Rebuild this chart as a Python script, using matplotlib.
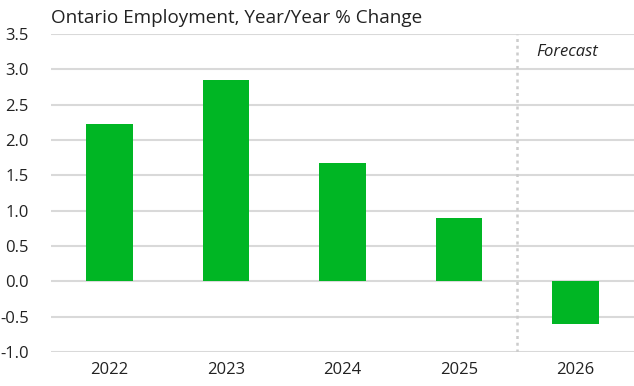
import matplotlib
matplotlib.use("Agg")
import matplotlib.pyplot as plt

years = ["2022", "2023", "2024", "2025", "2026"]
values = [2.22, 2.85, 1.68, 0.89, -0.60]
yticks = [-1.0, -0.5, 0.0, 0.5, 1.0, 1.5, 2.0, 2.5, 3.0, 3.5]
title = "Ontario Employment, Year/Year % Change"
forecast_label = "Forecast"

plt.rcParams['font.family'] = ['Open Sans', 'DejaVu Sans']

fig = plt.figure(figsize=(6.34, 3.86), dpi=100)
ax = fig.add_axes([51/634, 1-352/386, 1-51/634, (352-34)/386])

x = list(range(len(years)))
ax.bar(x, values, width=0.4, color="#00B624", zorder=3)
ax.set_xlim(-0.5, len(years)-0.5)
ax.set_ylim(-1.0, 3.5)
ax.set_yticks(yticks)
ax.set_yticklabels([f"{v:.1f}" for v in yticks], fontsize=12, color="#222222")
ax.set_xticks(x)
ax.set_xticklabels(years, fontsize=12, color="#222222")
ax.tick_params(axis='both', length=0)
ax.tick_params(axis='y', pad=16)
ax.tick_params(axis='x', pad=7)
ax.yaxis.grid(True, color="#d9d9d9", linewidth=1.5, zorder=0)
for s in ax.spines.values():
    s.set_visible(False)

ax.axvline(3.5, ymin=0.0, ymax=1.0, color="#cccccc", linestyle=(0, (1.2, 1.5)), linewidth=1.8, zorder=2)
ax.text(3.93, 3.25, forecast_label, ha="center", va="center", fontsize=12, style="italic", color="#222222")

fig.text(51/634, 1-18/386, title, ha="left", va="center", fontsize=13.6, color="#222222")

fig.savefig("out.png", dpi=100)
